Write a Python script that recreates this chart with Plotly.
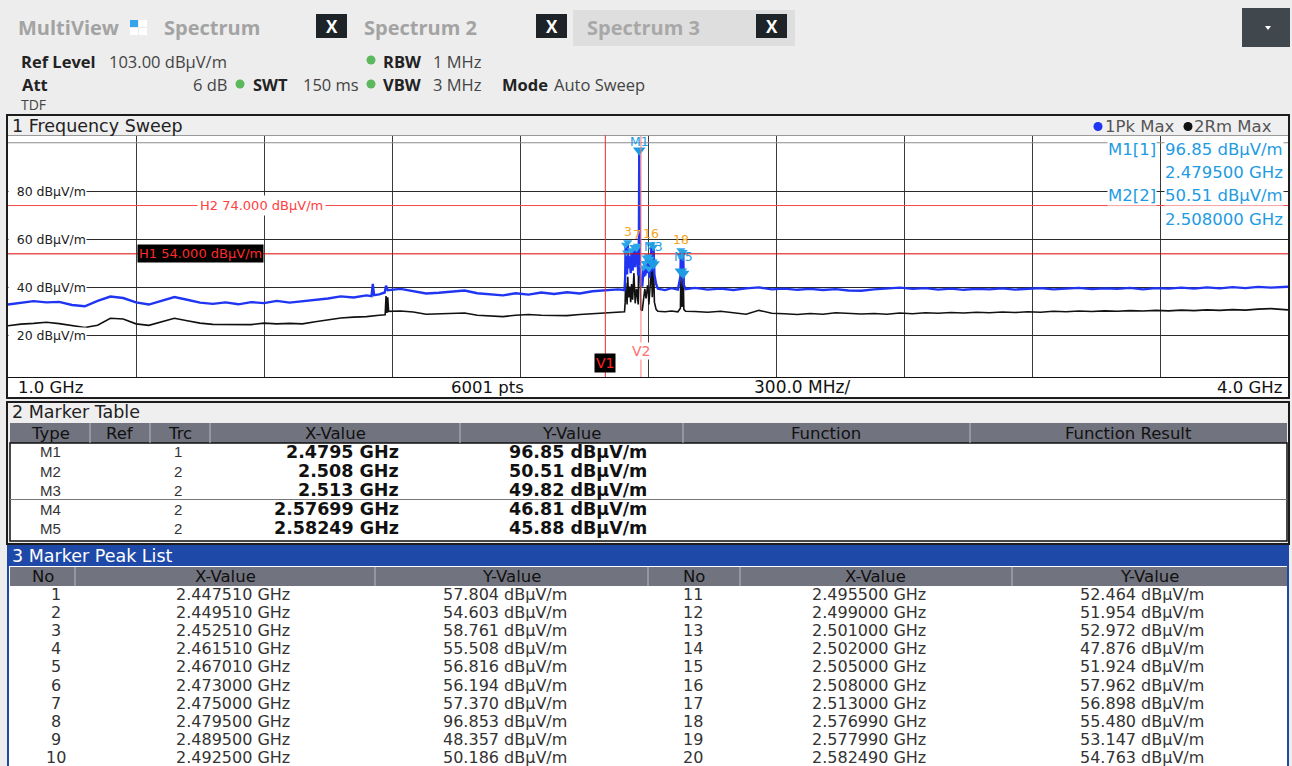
import plotly.graph_objects as go

W, H = 1292, 766

# sweep settings
f_start, f_stop = 1.0, 4.0        # GHz
ref_level = 103.0                 # dBµV/m
db_range = 100.0
sweep_pts = 6001
grid_db = [20, 40, 60, 80]
top_grid_db = 100
label_db = [80, 60, 40, 20]

h_names = ["H1", "H2"]
h_levels = [54.0, 74.0]
v_names = ["V1", "V2"]
v_freqs = [2.4, 2.4835]

# trace 1 : Pk Max
pk_freq = [
    1.000, 1.030, 1.060, 1.090, 1.120, 1.150, 1.180, 1.210, 1.240, 1.270,
    1.300, 1.330, 1.360, 1.390, 1.420, 1.450, 1.480, 1.510, 1.540, 1.570,
    1.600, 1.630, 1.660, 1.690, 1.720, 1.750, 1.780, 1.810, 1.840, 1.852,
    1.855, 1.858, 1.870, 1.883, 1.886, 1.890, 1.920, 1.950, 1.980, 2.010,
    2.040, 2.070, 2.100, 2.130, 2.160, 2.190, 2.220, 2.250, 2.280, 2.310,
    2.340, 2.370, 2.400, 2.430, 2.445,
    2.4465, 2.4475, 2.4485, 2.4495, 2.4510, 2.4525, 2.4545, 2.4570, 2.4595, 2.4615,
    2.4640, 2.4670, 2.4700, 2.4730, 2.4740, 2.4750, 2.4770, 2.4785, 2.4795, 2.4805,
    2.4830, 2.4865, 2.4880, 2.4895, 2.4910, 2.4925, 2.4940, 2.4955, 2.4970, 2.4990,
    2.5000, 2.5010, 2.5015, 2.5020, 2.5035, 2.5050, 2.5065, 2.5080, 2.5100, 2.5130,
    2.5150, 2.5190, 2.5230, 2.5400, 2.5550, 2.5700, 2.5760, 2.5770, 2.5775, 2.5780,
    2.5800, 2.5825, 2.5840, 2.5880,
    2.610, 2.640, 2.670, 2.700, 2.730, 2.760, 2.790, 2.820, 2.850, 2.880,
    2.910, 2.940, 2.970, 3.000, 3.030, 3.060, 3.090, 3.120, 3.150, 3.180,
    3.210, 3.240, 3.270, 3.300, 3.330, 3.360, 3.390, 3.420, 3.450, 3.480,
    3.510, 3.540, 3.570, 3.600, 3.630, 3.660, 3.690, 3.720, 3.750, 3.780,
    3.810, 3.840, 3.870, 3.900, 3.930, 3.960, 4.000,
]
pk_level = [
    33.0, 33.7, 34.4, 33.9, 34.1, 32.8, 32.3, 34.5, 36.3, 35.7,
    33.9, 33.0, 34.5, 36.1, 35.0, 33.8, 33.3, 33.9, 33.1, 34.0,
    33.6, 34.5, 33.8, 34.3, 34.9, 35.5, 36.4, 35.9, 36.8, 36.5,
    41.6, 36.9, 37.2, 38.0, 40.8, 38.9, 39.5, 38.6, 37.6, 37.9,
    38.5, 38.8, 37.7, 37.2, 36.8, 37.7, 37.1, 38.0, 37.4, 38.1,
    37.6, 38.5, 38.8, 39.3, 39.0,
    44.0, 57.8, 46.5, 54.6, 45.5, 58.8, 48.0, 53.0, 46.0, 55.5,
    47.0, 56.8, 48.5, 56.2, 50.5, 57.4, 45.0, 52.0, 96.85, 51.0,
    42.0, 40.5, 44.0, 48.4, 44.5, 50.2, 45.0, 52.5, 46.0, 52.0,
    47.5, 53.0, 46.0, 47.9, 44.0, 51.9, 46.5, 58.0, 47.0, 56.9,
    45.5, 41.5, 39.6, 39.0, 39.8, 39.2, 44.5, 55.5, 50.0, 53.1,
    45.5, 54.8, 41.0, 39.4,
    39.9, 39.2, 39.6, 39.0, 39.7, 40.1, 39.3, 39.6, 39.1, 39.5,
    39.0, 39.4, 38.8, 38.7, 39.3, 39.6, 40.0, 39.5, 39.8, 39.2,
    39.6, 39.1, 39.5, 39.3, 39.7, 39.2, 39.4, 39.8, 39.3, 39.6,
    39.9, 39.4, 39.7, 39.5, 39.9, 39.3, 39.8, 39.6, 40.0, 39.6,
    40.1, 39.7, 40.2, 39.8, 40.3, 40.0, 40.4,
]

# trace 2 : Rm Max
rm_freq = [
    1.000, 1.030, 1.060, 1.090, 1.120, 1.150, 1.180, 1.210, 1.240, 1.270,
    1.300, 1.330, 1.360, 1.390, 1.420, 1.450, 1.480, 1.510, 1.540, 1.570,
    1.600, 1.630, 1.660, 1.690, 1.720, 1.750, 1.780, 1.810, 1.840, 1.870,
    1.884, 1.886, 1.888, 1.890, 1.892, 1.920, 1.950, 1.980, 2.010, 2.040,
    2.070, 2.100, 2.130, 2.160, 2.190, 2.220, 2.250, 2.280, 2.310, 2.340,
    2.370, 2.400, 2.430, 2.445,
    2.4465, 2.4475, 2.4485, 2.4495, 2.4510, 2.4525, 2.4545, 2.4570, 2.4595, 2.4615,
    2.4640, 2.4670, 2.4700, 2.4730, 2.4750, 2.4770, 2.4785, 2.4795, 2.4805, 2.4830,
    2.4865, 2.4880, 2.4895, 2.4925, 2.4955, 2.4990, 2.5010, 2.5020, 2.5050, 2.5080,
    2.5100, 2.5130, 2.5150, 2.5190, 2.5230, 2.5400, 2.5550, 2.5700, 2.5760, 2.5770,
    2.5780, 2.5800, 2.5825, 2.5840, 2.5880,
    2.610, 2.640, 2.670, 2.700, 2.730, 2.760, 2.790, 2.820, 2.850, 2.880,
    2.910, 2.940, 2.970, 3.000, 3.030, 3.060, 3.090, 3.120, 3.150, 3.180,
    3.210, 3.240, 3.270, 3.300, 3.330, 3.360, 3.390, 3.420, 3.450, 3.480,
    3.510, 3.540, 3.570, 3.600, 3.630, 3.660, 3.690, 3.720, 3.750, 3.780,
    3.810, 3.840, 3.870, 3.900, 3.930, 3.960, 4.000,
]
rm_level = [
    24.2, 24.9, 25.2, 25.7, 25.1, 24.3, 23.5, 24.4, 27.3, 27.0,
    25.0, 24.4, 25.7, 27.3, 26.3, 25.3, 24.8, 24.7, 24.9, 24.7,
    25.3, 25.0, 25.2, 25.0, 25.9, 26.8, 27.4, 27.8, 28.0, 28.6,
    28.8, 36.5, 29.5, 36.0, 30.2, 30.3, 29.9, 29.0, 29.2, 29.6,
    29.5, 28.6, 28.2, 28.0, 28.6, 28.9, 28.6, 28.5, 28.4, 28.9,
    29.3, 29.5, 29.8, 30.0,
    34.0, 42.0, 35.0, 38.5, 33.0, 44.5, 36.0, 40.5, 34.0, 41.5,
    35.0, 46.0, 33.5, 39.5, 37.0, 33.0, 62.0, 87.0, 58.0, 31.0,
    30.5, 33.0, 36.0, 39.5, 35.5, 41.0, 37.5, 33.0, 40.5, 50.5,
    36.0, 49.8, 34.0, 31.0, 30.2, 30.0, 30.3, 30.0, 31.5, 46.8,
    38.0, 32.0, 45.9, 31.0, 30.2,
    30.1, 29.8, 30.2, 29.7, 29.0, 30.6, 29.4, 29.2, 28.9, 29.3,
    29.0, 29.6, 29.4, 29.1, 29.3, 29.0, 29.5, 29.2, 29.6, 29.4,
    29.7, 29.5, 29.8, 29.6, 29.9, 29.7, 30.0, 29.8, 30.2, 30.0,
    30.3, 30.1, 30.4, 30.2, 30.5, 30.3, 30.6, 30.4, 30.7, 30.5,
    30.8, 30.6, 30.9, 30.7, 31.1, 31.3, 30.8,
]

# marker peak list
peak_no = list(range(1, 21))
peak_freq = [
    2.447510, 2.449510, 2.452510, 2.461510, 2.467010, 2.473000, 2.475000, 2.479500, 2.489500, 2.492500,
    2.495500, 2.499000, 2.501000, 2.502000, 2.505000, 2.508000, 2.513000, 2.576990, 2.577990, 2.582490,
]
peak_level = [
    57.804, 54.603, 58.761, 55.508, 56.816, 56.194, 57.370, 96.853, 48.357, 50.186,
    52.464, 51.954, 52.972, 47.876, 51.924, 57.962, 56.898, 55.480, 53.147, 54.763,
]
peak_tagged = [3, 7, 16, 18]

# marker table
mk_name = ["M1", "M2", "M3", "M4", "M5"]
mk_trace = [1, 2, 2, 2, 2]
mk_freq = [2.4795, 2.508, 2.513, 2.57699, 2.58249]
mk_level = [96.85, 50.51, 49.82, 46.81, 45.88]
mk_tagged = ["M1", "M3", "M5"]

UNIT = "dBµV/m"
FONT = "DejaVu Sans"
UI = "Open Sans"
CYAN = "#1e9be3"
BLUE = "#1f35f2"


def px(x):
    return x / W


def py(y):
    return 1 - y / H


shapes = []
notes = []


def box(x0, y0, x1, y1, fill=None, line=None, lw=1):
    shapes.append(dict(type="rect", xref="paper", yref="paper",
                       x0=px(x0), x1=px(x1), y0=py(y1), y1=py(y0),
                       fillcolor=fill or "rgba(0,0,0,0)",
                       line=dict(color=line or "rgba(0,0,0,0)", width=lw if line else 0)))


def seg(x0, y0, x1, y1, color, lw=1):
    shapes.append(dict(type="line", xref="paper", yref="paper",
                       x0=px(x0), x1=px(x1), y0=py(y0), y1=py(y1),
                       line=dict(color=color, width=lw)))


def dot(x, y, r, color):
    shapes.append(dict(type="circle", xref="paper", yref="paper",
                       x0=px(x - r), x1=px(x + r), y0=py(y + r), y1=py(y - r),
                       fillcolor=color, line=dict(width=0)))


def text(x, y, s, size=15, color="#222", family=FONT, anchor="left", bold=False, bg=None, **kw):
    if bold:
        s = f"<b>{s}</b>"
    a = dict(xref="paper", yref="paper", x=px(x), y=py(y), text=s, showarrow=False,
             xanchor=anchor, yanchor="middle", borderpad=0,
             font=dict(size=size, color=color, family=family))
    if bg:
        a["bgcolor"] = bg
    a.update(kw)
    notes.append(a)


fig = go.Figure()
fig.add_trace(go.Scatter(x=rm_freq, y=rm_level, mode="lines",
                         line=dict(color="#111111", width=1.6), hoverinfo="skip"))
fig.add_trace(go.Scatter(x=pk_freq, y=pk_level, mode="lines",
                         line=dict(color=BLUE, width=2.4), hoverinfo="skip"))
fig.add_trace(go.Scatter(x=peak_freq, y=peak_level, mode="markers", hoverinfo="skip",
                         marker=dict(symbol="triangle-down", size=8, color="#2aa5e8")))
fig.add_trace(go.Scatter(x=mk_freq, y=mk_level, mode="markers", hoverinfo="skip",
                         marker=dict(symbol="triangle-down", size=11, color=CYAN)))

# ---------- top header ----------
text(17, 27, "MultiView", 20, "#a3a3a3", UI, bold=True)
box(130, 20, 138, 27, fill="#35a4ea")
box(139, 20, 147, 27, fill="white")
box(130, 28, 138, 35, fill="white")
box(139, 28, 147, 35, fill="white")
text(163, 27, "Spectrum", 20, "#a3a3a3", UI, bold=True)
box(573, 10, 795, 46, fill="#dedede")
text(363, 27, "Spectrum 2", 20, "#a3a3a3", UI, bold=True)
text(586, 27, "Spectrum 3", 20, "#a8a8a8", UI, bold=True)
for bx in [316, 536, 756]:
    box(bx, 14, bx + 31, 38, fill="#1d2327")
    text(bx + 15.5, 26, "X", 17, "white", UI, anchor="center", bold=True)
box(1242, 8, 1290, 47, fill="#41484d")
shapes.append(dict(type="path", xref="paper", yref="paper", fillcolor="white", line=dict(width=0),
                   path=f"M {px(1265)},{py(26)} L {px(1271)},{py(26)} L {px(1268)},{py(30)} Z"))

text(20, 61, "Ref Level", 16.5, "#222", UI, bold=True)
text(108, 61, f"{ref_level:.2f} {UNIT}", 16.5, "#444", UI)
dot(371, 60, 4.5, "#5cb85c")
text(382, 61, "RBW", 16.5, "#222", UI, bold=True)
text(432, 61, "1 MHz", 16.5, "#444", UI)
text(21, 85, "Att", 16.5, "#222", UI, bold=True)
text(228, 85, "6 dB", 16.5, "#444", UI, anchor="right")
dot(240, 84, 4.5, "#5cb85c")
text(252, 85, "SWT", 16.5, "#222", UI, bold=True)
text(302, 85, "150 ms", 16.5, "#444", UI)
dot(371, 84, 4.5, "#5cb85c")
text(382, 85, "VBW", 16.5, "#222", UI, bold=True)
text(432, 85, "3 MHz", 16.5, "#444", UI)
text(501, 85, "Mode", 16.5, "#222", UI, bold=True)
text(553, 85, "Auto Sweep", 16.5, "#444", UI)
text(20, 104, "TDF", 14, "#444", UI)

# ---------- panel 1 : frequency sweep ----------
box(7, 115, 1289, 398, line="#1c1c1c", lw=2)
box(8, 116, 1288, 135, fill="#efefef")
seg(8, 135.5, 1288, 135.5, "#9a9a9a")
text(11, 126, "1 Frequency Sweep", 17.5, "#222")
dot(1098, 126.5, 4.5, BLUE)
text(1104, 126, "1Pk Max", 16.5, "#555")
dot(1188, 126.5, 4.5, "#111")
text(1193, 126, "2Rm Max", 16.5, "#555")
box(8, 377, 1288, 397, fill="white")
seg(8, 377.5, 1288, 377.5, "#111")
text(17, 387, f"{f_start:.1f} GHz", 16.5, "#111")
text(487, 387, f"{sweep_pts} pts", 16.5, "#111", anchor="center")
text(753, 387, f"{(f_stop - f_start) / 10 * 1000:.1f} MHz/", 17, "#111")
text(1283, 387, f"{f_stop:.1f} GHz", 16.5, "#111", anchor="right")

shapes.append(dict(type="line", xref="x domain", yref="y", x0=0, x1=1, y0=top_grid_db, y1=top_grid_db,
                   line=dict(color="#8c8c8c", width=1)))
for v in label_db:
    notes.append(dict(xref="paper", yref="y", x=px(8), y=v, xanchor="left", yanchor="middle",
                      text=f"{v} {UNIT}", showarrow=False, width=77, align="right",
                      bgcolor="white", borderpad=0,
                      font=dict(size=12.5, color="#222", family=FONT)))

h_colors = ["#dc0000", "#f24a4a"]
for name, lvl, col in zip(h_names, h_levels, h_colors):
    shapes.append(dict(type="line", xref="x domain", yref="y", x0=0, x1=1, y0=lvl, y1=lvl,
                       line=dict(color=col, width=1)))
notes.append(dict(xref="paper", yref="y", x=px(137), y=h_levels[0], xanchor="left", yanchor="middle",
                  text=f"{h_names[0]} {h_levels[0]:.3f} {UNIT}", showarrow=False, bgcolor="black",
                  borderpad=1, font=dict(size=13, color="#ff2a2a", family=FONT)))
notes.append(dict(xref="paper", yref="y", x=px(261), y=h_levels[1], xanchor="center", yanchor="middle",
                  text=f"{h_names[1]} {h_levels[1]:.3f} {UNIT}", showarrow=False, bgcolor="white",
                  borderpad=2, font=dict(size=13, color="#ff4040", family=FONT)))

v_colors = ["#ee2b2b", "#ff7b7b"]
for name, f, col in zip(v_names, v_freqs, v_colors):
    shapes.append(dict(type="line", xref="x", yref="y domain", x0=f, x1=f, y0=0, y1=1,
                       line=dict(color=col, width=1)))
notes.append(dict(xref="x", yref="paper", x=v_freqs[0], y=py(363), xanchor="center", yanchor="middle",
                  text=v_names[0], showarrow=False, bgcolor="black", borderpad=1,
                  font=dict(size=14, color="#ff2020", family=FONT)))
notes.append(dict(xref="x", yref="paper", x=v_freqs[1], y=py(351), xanchor="center", yanchor="middle",
                  text=v_names[1], showarrow=False, bgcolor="white", borderpad=0,
                  font=dict(size=14, color="#ff7070", family=FONT)))

# peak and marker tags
for n in peak_tagged:
    notes.append(dict(xref="x", yref="y", x=peak_freq[n - 1], y=peak_level[n - 1], yshift=11,
                      text=str(n), showarrow=False, font=dict(size=12.5, color="#f5a623", family=FONT)))
for name in mk_tagged:
    i = mk_name.index(name)
    notes.append(dict(xref="x", yref="y", x=mk_freq[i], y=mk_level[i], yshift=9 if i == 0 else 17,
                      text=name, showarrow=False, font=dict(size=12.5, color=CYAN, family=FONT)))

# marker readout, top right
for i, yy in zip([0, 1], [149, 196]):
    text(1157, yy, f"{mk_name[i]}[{mk_trace[i]}]", 16.5, CYAN, anchor="right", bg="white")
    text(1284, yy, f"{mk_level[i]:.2f} {UNIT}", 16.5, CYAN, anchor="right", bg="white")
    text(1284, yy + 23, f"{mk_freq[i]:.6f} GHz", 16.5, CYAN, anchor="right", bg="white")

# ---------- panel 2 : marker table ----------
box(7, 402, 1289, 544, line="#1c1c1c", lw=2)
box(8, 403, 1288, 421, fill="#efefef")
text(11, 412, "2 Marker Table", 17.5, "#222")
mt_edges = [10, 90, 150, 210, 460, 683, 970, 1287]
mt_heads = ["Type", "Ref", "Trc", "X-Value", "Y-Value", "Function", "Function Result"]
box(10, 423, 1287, 443, fill="#71737f")
box(10, 443, 1287, 541, fill="white", line="#111", lw=1.5)
for e in mt_edges[1:-1]:
    seg(e, 423, e, 443, "#b9bbc2")
for a, b, h in zip(mt_edges[:-1], mt_edges[1:], mt_heads):
    text((a + b) / 2, 433, h, 16.5, "#111", anchor="center")
seg(10, 499.5, 1287, 499.5, "#777")
for i in range(len(mk_name)):
    yy = 452 + 19 * i
    text(50, yy, mk_name[i], 15, "#333", "Liberation Sans Narrow, Liberation Sans", anchor="center")
    text(178, yy, str(mk_trace[i]), 15, "#333", "Liberation Sans Narrow, Liberation Sans", anchor="center")
    text(400, yy, f"{mk_freq[i]:g} GHz", 17.5, "#111", anchor="right", bold=True)
    text(648, yy, f"{mk_level[i]:.2f} {UNIT}", 17.5, "#111", anchor="right", bold=True)

# ---------- panel 3 : marker peak list ----------
box(8, 546, 1288, 767, fill="white", line="#1f49a8", lw=2)
box(8, 547, 1288, 566, fill="#1f49a8")
text(11, 556, "3 Marker Peak List", 17.5, "white")
pl_edges = [10, 75, 375, 648, 740, 1012, 1287]
pl_heads = ["No", "X-Value", "Y-Value", "No", "X-Value", "Y-Value"]
box(10, 567, 1287, 586, fill="#71737f")
for e in pl_edges[1:-1]:
    seg(e, 567, e, 586, "#b9bbc2")
centers = [(a + b) / 2 for a, b in zip(pl_edges[:-1], pl_edges[1:])]
for c, h in zip(centers, pl_heads):
    text(c, 576.5, h, 16.5, "#111", anchor="center")
val_x = [56, 233, 505, 693, 869, 1142]
for i, (n, f, v) in enumerate(zip(peak_no, peak_freq, peak_level)):
    half, row = divmod(i, 10)
    yy = 594 + 18.2 * row
    c = val_x[3 * half: 3 * half + 3]
    text(c[0], yy, str(n), 16, "#333", anchor="center")
    text(c[1], yy, f"{f:.6f} GHz", 16, "#333", anchor="center")
    text(c[2], yy, f"{v:.3f} {UNIT}", 16, "#333", anchor="center")

fig.update_layout(
    width=W, height=H, margin=dict(l=0, r=0, t=0, b=0),
    paper_bgcolor="#ededed", plot_bgcolor="white", showlegend=False,
    xaxis=dict(range=[f_start, f_stop], domain=[px(8), px(1288)], tick0=f_start, dtick=0.3,
               showgrid=True, gridcolor="#3a3a3a", gridwidth=1, showticklabels=False,
               zeroline=False, ticks=""),
    yaxis=dict(range=[ref_level - db_range, ref_level], domain=[py(377), py(135.5)],
               tickvals=grid_db, showgrid=True, gridcolor="#2a2a2a", gridwidth=1,
               showticklabels=False, zeroline=False, ticks=""),
    shapes=shapes, annotations=notes,
)

fig.write_html("out.html", config={"displayModeBar": False},
               post_script="document.body.style.margin='0';")
